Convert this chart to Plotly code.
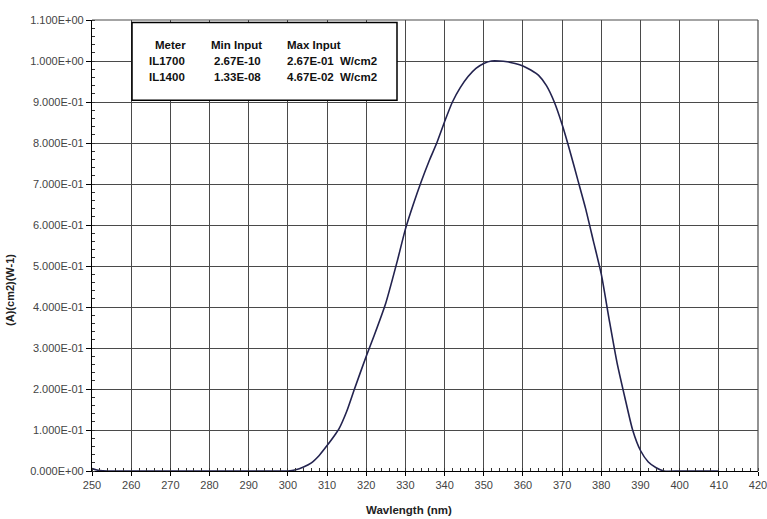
import plotly.graph_objects as go

# Spectral response curve (wavelength in nm, relative responsivity)
wavelength = [250, 251, 252, 254, 260, 270, 280, 290, 300, 302, 304, 306, 308,
              310, 312, 313, 315, 317, 320, 322, 325, 328, 330, 332, 334, 336,
              338, 340, 342, 344, 346, 348, 350, 352, 354, 356, 358, 360, 362,
              364, 366, 368, 370, 372, 374, 376, 378, 380, 382, 384, 386, 388,
              390, 392, 394, 396, 400, 405, 410]
response = [0.006, 0.003, 0.001, 0.0, 0.0, 0.0, 0.0, 0.0, 0.0, 0.003, 0.01, 0.02, 0.038,
            0.062, 0.088, 0.102, 0.145, 0.200, 0.280, 0.330, 0.410, 0.515, 0.590, 0.650, 0.705, 0.755,
            0.800, 0.852, 0.900, 0.935, 0.962, 0.982, 0.994, 1.000, 1.000, 0.998, 0.994, 0.988, 0.978,
            0.965, 0.940, 0.900, 0.845, 0.780, 0.710, 0.640, 0.560, 0.480, 0.370, 0.265, 0.180, 0.100,
            0.050, 0.022, 0.008, 0.0, 0.0, 0.0, 0.0]

x_ticks = list(range(250, 421, 10))
y_ticks = [round(0.1 * i, 1) for i in range(12)]
y_tick_text = ["0.000E+00", "1.000E-01", "2.000E-01", "3.000E-01", "4.000E-01",
               "5.000E-01", "6.000E-01", "7.000E-01", "8.000E-01", "9.000E-01",
               "1.000E+00", "1.100E+00"]

# Meter input-range table
table_header = ["Meter", "Min Input", "Max Input"]
meters = ["IL1700", "IL1400"]
min_inputs = ["2.67E-10", "1.33E-08"]
max_inputs = ["2.67E-01", "4.67E-02"]
unit = "W/cm2"

W, H = 767, 519
L, R, T, B = 92, 9, 19.5, 47.5
PW, PH = W - L - R, H - T - B


def px(x):
    return (x - L) / PW


def py(y):
    return (H - B - y) / PH


FONT = "Liberation Sans Narrow, Arial Narrow, Liberation Sans, Arial"

fig = go.Figure()
fig.add_trace(go.Scatter(
    x=wavelength, y=response, mode="lines", line_shape="spline",
    line=dict(color="#23234f", width=1.6, smoothing=0.6),
    hoverinfo="x+y", showlegend=False,
))

grid = "#4a4a4a"
fig.update_layout(
    width=W, height=H,
    margin=dict(l=L, r=R, t=T, b=B, autoexpand=False),
    paper_bgcolor="white", plot_bgcolor="white",
    xaxis=dict(
        range=[250, 420], tickvals=x_ticks, ticktext=[str(v) for v in x_ticks],
        showgrid=True, gridcolor=grid, gridwidth=1.2,
        showline=True, linecolor="black", linewidth=1.2,
        ticks="outside", ticklen=4, tickcolor="black",
        minor=dict(dtick=2, ticks="inside", ticklen=3, tickcolor="#333", showgrid=False),
        tickfont=dict(family=FONT, size=11, color="#444"),
        ticklabeloverflow="allow", automargin=False,
        zeroline=False, fixedrange=True,
    ),
    yaxis=dict(
        range=[0, 1.1], tickvals=y_ticks, ticktext=y_tick_text,
        showgrid=True, gridcolor=grid, gridwidth=1.2,
        showline=True, linecolor="black", linewidth=1.2,
        ticks="outside", ticklen=5, tickcolor="black",
        minor=dict(dtick=0.02, ticks="inside", ticklen=3, tickcolor="#333", showgrid=False),
        tickfont=dict(family=FONT, size=11, color="#444"),
        ticklabeloverflow="allow", automargin=False,
        zeroline=False, fixedrange=True,
    ),
)

# Plot-area frame on the top and right edges
fig.add_shape(type="line", xref="paper", yref="paper", x0=1, x1=1, y0=0, y1=1,
              line=dict(color=grid, width=1.2))
fig.add_shape(type="line", xref="paper", yref="paper", x0=0, x1=1, y0=1, y1=1,
              line=dict(color=grid, width=1.2))

# Axis titles
fig.add_annotation(x=px(409), y=py(511), xref="paper", yref="paper",
                   text="<b>Wavlength (nm)</b>", showarrow=False,
                   font=dict(family=FONT, size=11.5, color="#222"),
                   xanchor="center", yanchor="middle")
fig.add_annotation(x=px(10), y=py(290), xref="paper", yref="paper",
                   text="<b>(A)(cm2)(W-1)</b>", showarrow=False, textangle=-90,
                   font=dict(family=FONT, size=11, color="#222"),
                   xanchor="center", yanchor="middle")

# Input-range table box
fig.add_shape(type="rect", xref="paper", yref="paper",
              x0=px(132), x1=px(397), y0=py(100), y1=py(22),
              line=dict(color="black", width=1.5), fillcolor="white", layer="above")

col_x = [153, 209, 285]
row_y = [45, 61, 77]
tfont = dict(family=FONT, size=11.5, color="#111")


def cell(x, y, s):
    fig.add_annotation(x=px(x), y=py(y), xref="paper", yref="paper",
                       text=f"<b>{s}</b>", showarrow=False, font=tfont,
                       xanchor="left", yanchor="middle")


for cx, h in zip(col_x, table_header):
    cell(cx, row_y[0], h)
for i in range(len(meters)):
    cell(147, row_y[i + 1], meters[i])
    cell(212, row_y[i + 1], min_inputs[i])
    cell(285, row_y[i + 1], max_inputs[i])
    cell(338, row_y[i + 1], unit)

fig.write_html("out.html")
